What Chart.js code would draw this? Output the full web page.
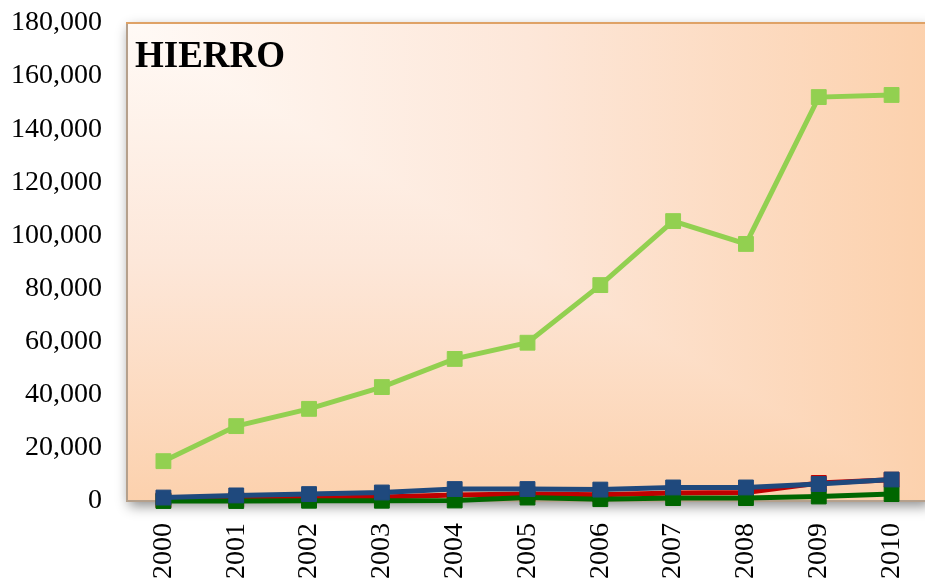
<!DOCTYPE html>
<html>
<head>
<meta charset="utf-8">
<script src="https://cdn.jsdelivr.net/npm/chart.js@4/dist/chart.umd.min.js"></script>
<style>
  html, body { margin: 0; padding: 0; background: #fff; overflow: hidden; width: 925px; height: 579px; }
  /* plot runs a few px past the window edge, like the reference */
  #wrap { position: relative; width: 928px; height: 579px; }
</style>
</head>
<body>
<div id="wrap"><canvas id="hierroChart"></canvas></div>
<script>
// data
const years = ["2000", "2001", "2002", "2003", "2004", "2005", "2006", "2007", "2008", "2009", "2010"];
const lightGreenVals = [15000, 28200, 34700, 42900, 53500, 59600, 81300, 105400, 96800, 152100, 152900];
const blueVals = [1300, 2100, 2600, 3200, 4500, 4500, 4300, 5100, 5100, 6400, 8100];
const redVals = [300, 600, 1000, 1500, 2300, 2600, 2400, 3000, 3200, 6800, 8000];
const darkGreenVals = [0, 0, 100, 100, 200, 1300, 700, 1100, 1100, 1700, 2600];
const yTicks = { min: 0, max: 180000, step: 20000 };
const chartTitle = "HIERRO";

const serif = "'Liberation Serif', 'DejaVu Serif', serif";

// plot area fill: rectangular gradient out of the top-left corner + drop shadow + border
const plotBackground = {
  id: 'plotBackground',
  beforeDraw(chart) {
    const { ctx, chartArea: a } = chart;
    const w = a.right - a.left, h = a.bottom - a.top;
    const stops = [[0, '#fffaf6'], [0.5, '#fde7d9'], [1, '#fcd1ad']];

    ctx.save();
    ctx.shadowColor = 'rgba(0,0,0,0.45)';
    ctx.shadowBlur = 12;
    ctx.shadowOffsetX = 2;
    ctx.shadowOffsetY = 5;
    ctx.fillStyle = '#fde7d9';
    ctx.fillRect(a.left, a.top, w, h);
    ctx.restore();

    // lower-left half: vertical gradient
    ctx.save();
    let g = ctx.createLinearGradient(0, a.top, 0, a.bottom);
    stops.forEach(s => g.addColorStop(s[0], s[1]));
    ctx.fillStyle = g;
    ctx.fillRect(a.left, a.top, w, h);
    // upper-right half: horizontal gradient
    ctx.beginPath();
    ctx.moveTo(a.left, a.top);
    ctx.lineTo(a.right, a.top);
    ctx.lineTo(a.right, a.bottom);
    ctx.closePath();
    ctx.clip();
    g = ctx.createLinearGradient(a.left, 0, a.right, 0);
    stops.forEach(s => g.addColorStop(s[0], s[1]));
    ctx.fillStyle = g;
    ctx.fillRect(a.left, a.top, w, h);
    ctx.restore();

    ctx.save();
    ctx.lineWidth = 2;
    ctx.strokeStyle = '#b5a08c';
    ctx.beginPath();
    ctx.moveTo(a.left, a.top);
    ctx.lineTo(a.left, a.bottom);
    ctx.lineTo(a.right, a.bottom);
    ctx.stroke();
    ctx.strokeStyle = '#dfa266';
    ctx.beginPath();
    ctx.moveTo(a.left - 1, a.top);
    ctx.lineTo(a.right, a.top);
    ctx.stroke();
    ctx.restore();
  },
  beforeDatasetsDraw(chart) {
    const { ctx, chartArea: a } = chart;
    ctx.save();
    ctx.font = "bold 37px " + serif;
    ctx.fillStyle = '#000';
    ctx.textBaseline = 'alphabetic';
    ctx.fillText(chartTitle, a.left + 8, a.top + 44);
    ctx.restore();
  }
};

function makeSeries(vals, color) {
  return {
    data: vals,
    borderColor: color,
    backgroundColor: color,
    borderWidth: 5,
    pointStyle: 'rect',
    pointRadius: 10.5,
    pointBorderWidth: 1,
    pointHoverRadius: 10.5,
    tension: 0,
    clip: false
  };
}

const ctx = document.getElementById('hierroChart').getContext('2d');
new Chart(ctx, {
  type: 'line',
  data: {
    labels: years,
    // first dataset is drawn on top
    datasets: [
      makeSeries(blueVals, '#1f497d'),
      makeSeries(darkGreenVals, '#006600'),
      makeSeries(redVals, '#c00000'),
      makeSeries(lightGreenVals, '#92d050')
    ]
  },
  options: {
    responsive: true,
    maintainAspectRatio: false,
    animation: false,
    layout: { autoPadding: false, padding: { top: 23, left: 0, right: 0, bottom: 0 } },
    plugins: { legend: { display: false }, tooltip: { enabled: false } },
    scales: {
      x: {
        offset: true,
        grid: { display: false, drawTicks: false },
        border: { display: false },
        ticks: {
          autoSkip: false,
          minRotation: 90,
          maxRotation: 90,
          padding: 22,
          color: '#000',
          font: { family: serif, size: 28 }
        },
        afterFit(scale) {
          scale.height = 78;
          scale.paddingLeft = 0;
          scale.paddingRight = 0;
        }
      },
      y: {
        min: yTicks.min,
        max: yTicks.max,
        grid: { display: false, drawTicks: false },
        border: { display: false },
        ticks: {
          stepSize: yTicks.step,
          padding: 25,
          color: '#000',
          font: { family: serif, size: 28 },
          callback: v => v.toLocaleString('en-US')
        },
        afterFit(scale) {
          scale.width = 127;
          scale.paddingTop = 0;
          scale.paddingBottom = 0;
        }
      }
    }
  },
  plugins: [plotBackground]
});
</script>
</body>
</html>
